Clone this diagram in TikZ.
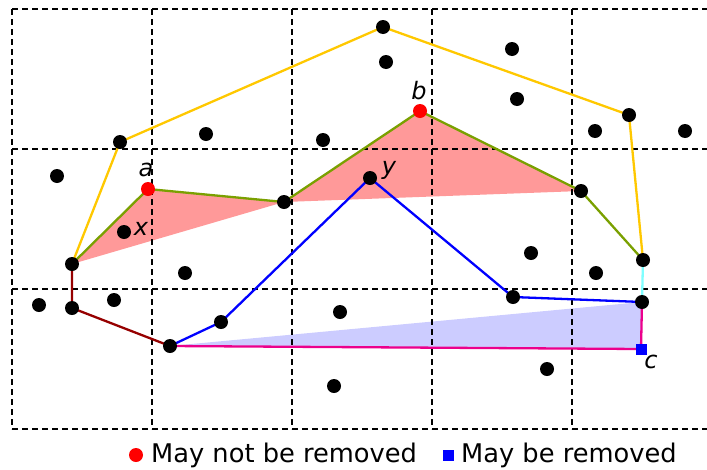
\documentclass[tikz,border=0pt]{standalone}
\usepackage{fontspec}
\setmainfont{DejaVu Sans}
\definecolor{hullyellow}{RGB}{255,200,0}
\definecolor{hullolive}{RGB}{122,160,0}
\definecolor{hullmaroon}{RGB}{150,0,0}
\definecolor{hullcyan}{RGB}{128,255,255}
\definecolor{hullpink}{RGB}{255,153,153}
\definecolor{hulllilac}{RGB}{204,204,255}
\tikzset{
  dot/.style={circle, fill=black, inner sep=0pt, minimum size=14pt},
  keep/.style={circle, fill=red, inner sep=0pt, minimum size=14pt},
  drop/.style={rectangle, fill=blue, inner sep=0pt, minimum size=11pt},
  gridline/.style={black, line width=2pt, dash pattern=on 6pt off 4pt},
  edge/.style={line width=2.3pt},
  lbl/.style={font=\fontsize{24}{24}\selectfont\itshape, inner sep=0pt},
  legend/.style={font=\fontsize{25.7}{26}\selectfont, inner sep=0pt, anchor=west}
}
\begin{document}
\begin{tikzpicture}[x=1pt, y=-1pt]
  \useasboundingbox (0,0) rectangle (707,469);
  % points
  \coordinate (p1) at (72,264);
  \coordinate (p2) at (120,142);
  \coordinate (p3) at (383,27);
  \coordinate (p4) at (629,115);
  \coordinate (p5) at (643,260);
  \coordinate (a) at (148,189);
  \coordinate (p6) at (284,202);
  \coordinate (b) at (420,111);
  \coordinate (p7) at (581,191);
  \coordinate (p8) at (642,302);
  \coordinate (c) at (641,349);
  \coordinate (p9) at (170,346);
  \coordinate (p10) at (221,322);
  \coordinate (y) at (370,178);
  \coordinate (p11) at (513,297);
  \coordinate (p12) at (72,308);
  % filled triangles
  \fill[hullpink] (p1) -- (a) -- (p6) -- cycle;
  \fill[hullpink] (p6) -- (b) -- (p7) -- cycle;
  \fill[hulllilac] (p9) -- (p8) -- (c) -- cycle;
  % grid
  \foreach \gx in {12,152,292,432,572}
    \draw[gridline] (\gx,9) -- (\gx,429);
  \foreach \gy in {9,149,289,429}
    \draw[gridline] (12,\gy) -- (712,\gy);
  % hull chains
  \draw[edge, hullyellow] (p1) -- (p2) -- (p3) -- (p4) -- (p5);
  \draw[edge, hullolive] (p1) -- (a) -- (p6) -- (b) -- (p7) -- (p5);
  \draw[edge, hullcyan] (p5) -- (p8);
  \draw[edge, magenta] (p8) -- (c) -- (p9);
  \draw[edge, blue] (p9) -- (p10) -- (y) -- (p11) -- (p8);
  \draw[edge, hullmaroon] (p1) -- (p12) -- (p9);
  % hull vertices
  \foreach \v in {p1,p2,p3,p4,p5,p6,p7,p8,p9,p10,y,p11,p12}
    \node[dot] at (\v) {};
  \node[keep] (ka) at (a) {};
  \node[keep] (kb) at (b) {};
  \node[drop] (dc) at (c) {};
  % other points
  \foreach \px/\py in {206/134,323/140,57/176,124/232,386/62,512/49,517/99,
                       595/131,685/131,185/273,39/305,114/300,340/312,334/386,
                       531/253,596/273,547/369}
    \node[dot] at (\px,\py) {};
  % labels
  \node[lbl] (la) at (146,170) {a};
  \node[lbl] (lb) at (419,91) {b};
  \node[lbl] (lc) at (651,362) {c};
  \node[lbl] (lx) at (141,229) {x};
  \node[lbl] (ly) at (389,170) {y};
  % legend
  \node[keep] (legkeep) at (136,455) {};
  \node[legend] (legkeeptext) at (151,455) {May not be removed};
  \node[drop] (legdrop) at (448,455) {};
  \node[legend] (legdroptext) at (461,455) {May be removed};
\end{tikzpicture}
\end{document}
